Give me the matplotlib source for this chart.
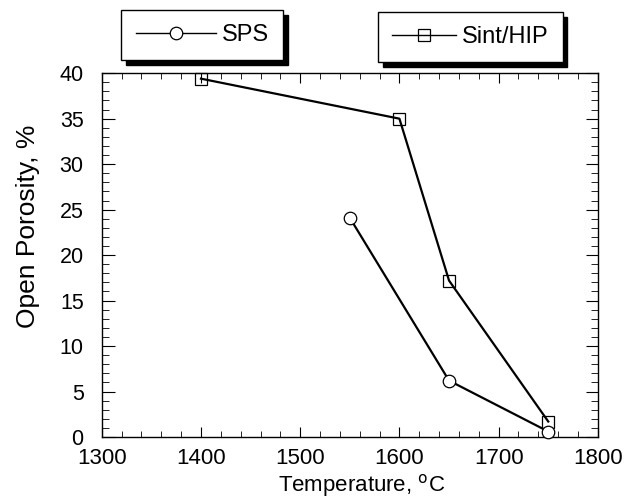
import numpy as np
import matplotlib.pyplot as plt
from matplotlib.lines import Line2D
from matplotlib.ticker import MultipleLocator

plt.rcParams['font.family'] = ['Liberation Sans', 'DejaVu Sans']

sps_temp = [1550, 1650, 1750]
sps_por = [24.1, 6.2, 0.6]
hip_temp = [1400, 1600, 1650, 1750]
hip_por = [39.4, 35.0, 17.2, 1.7]

fig = plt.figure(figsize=(6.32, 4.98), dpi=100)
ax = fig.add_axes([0.161, 0.1225, 0.785, 0.7305])

ax.plot(hip_temp, hip_por, 'k-', lw=1.6, marker='s', ms=8.5,
        mfc='none', mec='black', mew=0.9, clip_on=False, zorder=3)
ax.plot(sps_temp, sps_por, 'k-', lw=1.6, marker='o', ms=9,
        mfc='white', mec='black', mew=0.9, clip_on=False, zorder=4)

ax.set_xlim(1300, 1800)
ax.set_ylim(0, 40)
ax.xaxis.set_major_locator(MultipleLocator(100))
ax.xaxis.set_minor_locator(MultipleLocator(20))
ax.yaxis.set_major_locator(MultipleLocator(5))
ax.yaxis.set_minor_locator(MultipleLocator(1))
ax.tick_params(which='both', direction='in', top=True, right=True)
ax.tick_params(axis='x', which='major', length=7, width=0.8, labelsize=16, pad=8)
ax.tick_params(axis='x', which='minor', length=4, width=0.6)
ax.tick_params(axis='y', which='major', length=9, width=0.8, labelsize=15.5, pad=13)
ax.tick_params(axis='y', which='minor', length=5, width=0.6)
for s in ax.spines.values():
    s.set_linewidth(1.0)

ax.set_ylabel('Open Porosity, %', fontsize=19)
ax.yaxis.set_label_coords(-0.125, 0.58)
fig.text(362 / 632, 0.014, 'Temperature, $^{\\mathrm{o}}$C', fontsize=16,
         ha='center', va='baseline')

sps_h = Line2D([], [], color='black', lw=1.0, marker='o', ms=9,
               mfc='white', mec='black', mew=0.9)
hip_h = Line2D([], [], color='black', lw=1.0, marker='s', ms=8,
               mfc='none', mec='black', mew=0.9)

leg_kw = dict(frameon=True, fancybox=False,
              shadow={'color': 'black', 'alpha': 1, 'ox': 3.5, 'oy': -3.5},
              fontsize=17, borderpad=0.6, handletextpad=0.25,
              borderaxespad=0, edgecolor='black', framealpha=1)
lg1 = fig.legend([sps_h], ['SPS'], loc='center', bbox_to_anchor=(0.320, 0.930),
                 handlelength=3.4, **leg_kw)
lg2 = fig.legend([hip_h], ['Sint/HIP'], loc='center', bbox_to_anchor=(0.744, 0.926),
                 handlelength=2.7, **leg_kw)
for lg in (lg1, lg2):
    lg.get_frame().set_linewidth(1.0)

fig.savefig('out.png', dpi=100)
